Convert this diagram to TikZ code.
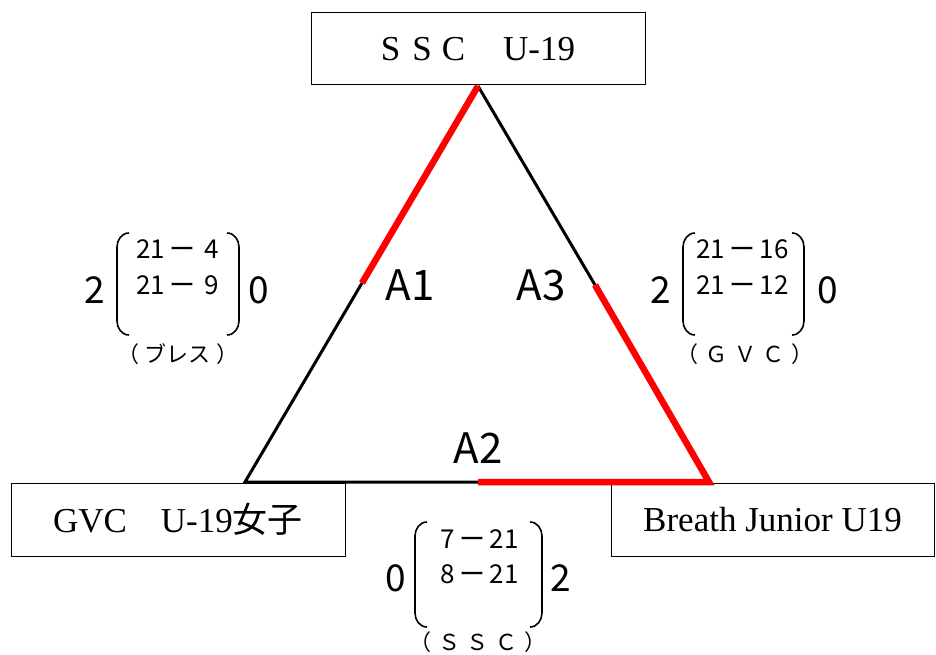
\documentclass[tikz,border=0pt]{standalone}
\usepackage{fontspec}
\setmainfont{Liberation Serif}
\newfontfamily\jp{Noto Sans CJK JP}
\tikzset{
  teambox/.style={draw=black, line width=1pt, inner sep=0pt, font=\fontsize{35}{39}\selectfont},
  blackline/.style={black, line width=3pt},
  redline/.style={red, line width=6.5pt},
  alabel/.style={font=\jp\fontsize{42}{46}\selectfont, inner sep=0pt},
  bigdigit/.style={font=\jp\fontsize{37}{41}\selectfont, inner sep=0pt},
  scoreline/.style={font=\jp\fontsize{26}{30}\selectfont, inner sep=0pt},
  paren/.style={font=\jp\fontsize{22}{26}\selectfont, inner sep=0pt},
  brk/.style={black, line width=1.6pt}
}
\begin{document}
\begin{tikzpicture}[x=1pt,y=-1pt]
\useasboundingbox (0,0) rectangle (936,655);
% team boxes
\node[teambox, minimum width=334pt, minimum height=72pt] (top) at (478,49)
  {S\hspace{12pt}S\hspace{10pt}C\hspace{38pt}U-19};
\node[teambox, minimum width=334pt, minimum height=73pt] (left) at (178,519.5)
  {GVC\hspace{34pt}U-19{\jp 女子}};
\node[teambox, minimum width=323pt, minimum height=73pt] (right) at (772.5,519.5)
  {Breath Junior U19};
% triangle
\coordinate (T) at (478,86);
\coordinate (BL) at (245,482);
\coordinate (BR) at (709,482);
\coordinate (mL) at (362,283);
\coordinate (mR) at (595,285);
\coordinate (mB) at (478,482);
\draw[blackline] (mL) -- (BL) -- (mB);
\draw[blackline] (T) -- (mR);
\draw[redline] (T) -- (mL);
\draw[redline] (mR) -- (BR) -- (mB);
% match labels
\node[alabel] (a1) at (410,285) {A1};
\node[alabel] (a3) at (541,285) {A3};
\node[alabel] (a2) at (478,448) {A2};
% left score
\node[bigdigit] (l2) at (95,290) {2};
\node[bigdigit] (l0) at (259,290) {0};
\node[scoreline, anchor=east] (ls1) at (219,249) {21\,ー\hspace{9pt}4};
\node[scoreline, anchor=east] (ls2) at (219,285) {21\,ー\hspace{9pt}9};
\node[paren] (lp) at (178,354) {（\hspace{6pt}ブレス\hspace{6pt}）};
\draw[brk] (129,233) to[out=180,in=90] (117,247) -- (117,321) to[out=-90,in=180] (129,335);
\draw[brk] (227,233) to[out=0,in=90] (239,247) -- (239,321) to[out=-90,in=0] (227,335);
% right score
\node[bigdigit] (r2) at (661,290) {2};
\node[bigdigit] (r0) at (828,290) {0};
\node[scoreline, anchor=east] (rs1) at (789,249) {21\,ー\,16};
\node[scoreline, anchor=east] (rs2) at (789,285) {21\,ー\,12};
\node[paren] (rp) at (745,354) {（\hspace{7pt}Ｇ\hspace{7pt}Ｖ\hspace{7pt}Ｃ\hspace{7pt}）};
\draw[brk] (695,233) to[out=180,in=90] (683,247) -- (683,321) to[out=-90,in=180] (695,335);
\draw[brk] (792,233) to[out=0,in=90] (804,247) -- (804,321) to[out=-90,in=0] (792,335);
% bottom score
\node[bigdigit] (b0) at (396,578) {0};
\node[bigdigit] (b2) at (561,578) {2};
\node[scoreline, anchor=east] (bs1) at (519,539) {7\,ー\,21};
\node[scoreline, anchor=east] (bs2) at (519,574) {8\,ー\,21};
\node[paren] (bp) at (478,642) {（\hspace{7pt}Ｓ\hspace{7pt}Ｓ\hspace{7pt}Ｃ\hspace{7pt}）};
\draw[brk] (427,522) to[out=180,in=90] (415,536) -- (415,613) to[out=-90,in=180] (427,627);
\draw[brk] (530,522) to[out=0,in=90] (542,536) -- (542,613) to[out=-90,in=0] (530,627);
\end{tikzpicture}
\end{document}
